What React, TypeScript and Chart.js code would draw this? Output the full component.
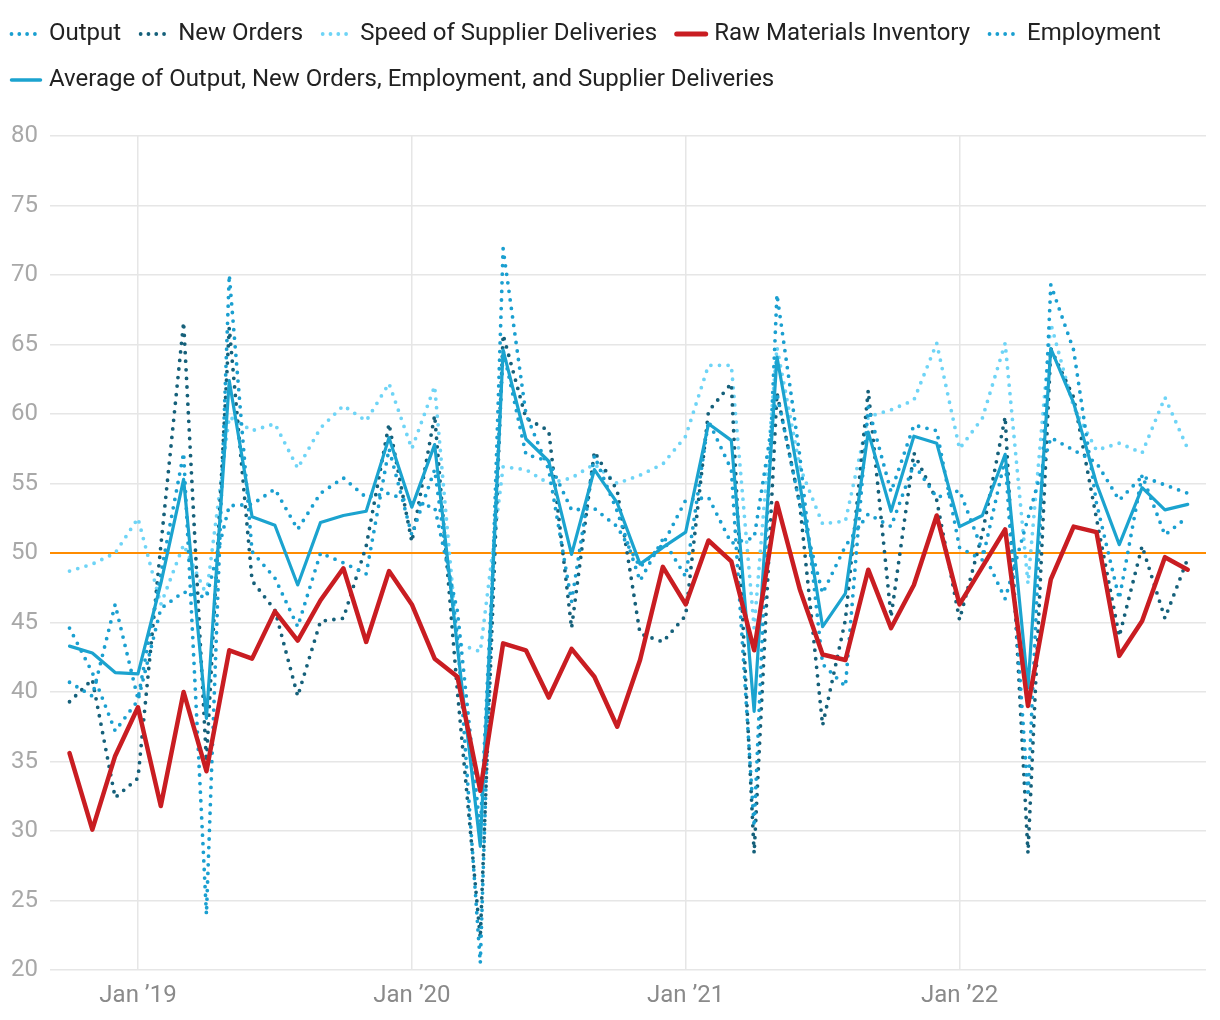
import React, { useEffect, useRef } from "react";
import { Chart, registerables } from "chart.js";

Chart.register(...registerables);

// Months from Oct 2018 to Nov 2022 (index 0 = Oct 2018)
const MONTHS = [
  "Oct 2018", "Nov 2018", "Dec 2018",
  "Jan 2019", "Feb 2019", "Mar 2019", "Apr 2019", "May 2019", "Jun 2019", "Jul 2019", "Aug 2019", "Sep 2019", "Oct 2019", "Nov 2019", "Dec 2019",
  "Jan 2020", "Feb 2020", "Mar 2020", "Apr 2020", "May 2020", "Jun 2020", "Jul 2020", "Aug 2020", "Sep 2020", "Oct 2020", "Nov 2020", "Dec 2020",
  "Jan 2021", "Feb 2021", "Mar 2021", "Apr 2021", "May 2021", "Jun 2021", "Jul 2021", "Aug 2021", "Sep 2021", "Oct 2021", "Nov 2021", "Dec 2021",
  "Jan 2022", "Feb 2022", "Mar 2022", "Apr 2022", "May 2022", "Jun 2022", "Jul 2022", "Aug 2022", "Sep 2022", "Oct 2022", "Nov 2022",
];

const JAN_TICKS = [3, 15, 27, 39];
const JAN_LABELS = ["Jan \u201919", "Jan \u201920", "Jan \u201921", "Jan \u201922"];

const OUTPUT = [
  40.7, 39.7, 46.3, 39.5, 48.5, 57.2, 24.0, 70.0, 50.1, 48.2, 44.7, 50.0, 49.3, 48.5, 57.5, 51.3, 56.0,
  44.0, 20.5, 71.9, 60.0, 56.0, 46.5, 57.0, 53.0, 48.0, 51.0, 48.3, 59.5, 56.0, 30.3, 68.6, 57.0, 42.0,
  40.4, 60.5, 54.4, 59.2, 58.8, 50.4, 49.5, 56.8, 32.5, 69.3, 64.6, 53.6, 46.7, 55.6, 51.3, 52.6,
];

const NEW_ORDERS = [
  39.3, 40.9, 32.4, 33.8, 50.5, 66.6, 35.0, 66.2, 48.0, 45.9, 39.7, 45.1, 45.3, 50.5, 59.3, 50.8, 59.9,
  40.0, 22.3, 65.7, 59.7, 58.8, 44.6, 57.3, 54.5, 44.2, 43.6, 45.5, 60.2, 62.2, 28.4, 61.5, 53.5, 37.6,
  45.2, 61.7, 45.4, 57.2, 53.8, 45.2, 51.4, 59.8, 28.4, 64.7, 61.2, 52.5, 44.0, 50.5, 45.3, 49.6,
];

const SUPPLIER_DELIVERIES = [
  48.7, 49.2, 50.0, 52.5, 46.3, 50.6, 47.0, 59.8, 58.8, 59.3, 56.1, 59.0, 60.6, 59.5, 62.2, 57.5, 62.0,
  43.5, 42.9, 56.2, 56.0, 55.0, 55.4, 56.4, 55.0, 55.6, 56.4, 58.4, 63.5, 63.5, 44.6, 64.8, 56.2, 52.1,
  52.3, 59.8, 60.3, 61.0, 65.1, 57.5, 59.7, 65.1, 47.8, 66.5, 60.5, 57.4, 57.9, 57.2, 61.2, 57.5,
];

const RAW_MATERIALS = [
  35.6, 30.1, 35.4, 38.9, 31.8, 40.0, 34.3, 43.0, 42.4, 45.8, 43.7, 46.6, 48.9, 43.6, 48.7, 46.3, 42.4,
  41.1, 32.9, 43.5, 43.0, 39.6, 43.1, 41.1, 37.5, 42.3, 49.0, 46.3, 50.9, 49.4, 43.0, 53.6, 47.4, 42.7,
  42.3, 48.8, 44.6, 47.7, 52.7, 46.3, 49.0, 51.7, 39.0, 48.1, 51.9, 51.5, 42.6, 45.1, 49.7, 48.8,
];

const EMPLOYMENT = [
  44.6, 41.4, 37.2, 39.4, 46.0, 47.2, 46.8, 53.4, 53.5, 54.6, 51.7, 54.3, 55.4, 54.0, 54.3, 53.6, 53.3,
  45.8, 30.0, 64.6, 57.1, 56.6, 53.1, 53.2, 51.9, 49.0, 50.6, 53.8, 54.0, 50.7, 51.1, 61.5, 53.5, 47.1,
  50.5, 52.8, 51.9, 56.4, 54.0, 54.5, 50.2, 46.7, 52.5, 58.3, 57.4, 56.5, 53.8, 55.5, 54.9, 54.3,
];

const AVERAGE = [
  43.3, 42.8, 41.4, 41.3, 47.8, 55.3, 38.1, 62.4, 52.6, 52.0, 47.7, 52.2, 52.7, 53.0, 58.3, 53.3, 57.8,
  43.2, 28.9, 64.6, 58.2, 56.6, 49.9, 56.0, 53.6, 49.2, 50.4, 51.5, 59.3, 58.1, 38.6, 64.1, 55.0, 44.7,
  47.1, 58.7, 53.0, 58.4, 57.9, 51.9, 52.7, 57.1, 40.3, 64.7, 60.8, 55.0, 50.6, 54.7, 53.1, 53.5,
];

const Y_MIN = 20;
const Y_MAX = 80;
const Y_STEP = 5;
const X_MIN = -0.855;
const X_MAX = 49.8;
const REFERENCE_LEVEL = 50;

const CANVAS_W = 1228;
const CANVAS_H = 1020;
const LEGEND_BOX_W = 27;

const FONT = "Roboto";

export default function App() {
  const ref = useRef<HTMLCanvasElement | null>(null);

  useEffect(() => {
    if (!ref.current) return;
    const toXY = (arr: number[]) => arr.map((v, i) => ({ x: i, y: v, month: MONTHS[i] }));

    const dotted = (label: string, data: number[], color: string, order: number) => ({
      label,
      data: toXY(data),
      borderColor: color,
      backgroundColor: color,
      borderWidth: 3.8,
      borderDash: [0, 8.6],
      borderCapStyle: "round",
      borderJoinStyle: "round",
      pointRadius: 0,
      pointHoverRadius: 0,
      tension: 0,
      fill: false,
      order,
      legendWidth: 3.8,
      legendDotted: true,
    });
    const solid = (label: string, data: number[], color: string, width: number, order: number, lw: number) => ({
      label,
      data: toXY(data),
      borderColor: color,
      backgroundColor: color,
      borderWidth: width,
      borderCapStyle: "round",
      borderJoinStyle: "round",
      pointRadius: 0,
      pointHoverRadius: 0,
      tension: 0,
      fill: false,
      order,
      legendWidth: lw,
      legendDotted: false,
    });

    const referenceLine = {
      id: "referenceLine",
      beforeDatasetsDraw(chart: any) {
        const { ctx, chartArea, scales } = chart;
        const y = scales.y.getPixelForValue(REFERENCE_LEVEL);
        ctx.save();
        ctx.strokeStyle = "#ff8c00";
        ctx.lineWidth = 2;
        ctx.beginPath();
        ctx.moveTo(chartArea.left, y);
        ctx.lineTo(chartArea.right, y);
        ctx.stroke();
        ctx.restore();
      },
    };

    const legendSymbols = {
      id: "legendSymbols",
      beforeUpdate(chart: any) {
        const lg = chart.legend;
        if (lg && !lg.__patched) {
          const orig = lg.fit.bind(lg);
          lg.fit = function () {
            orig();
            this.height += 32;
          };
          lg.__patched = true;
        }
      },
      afterDraw(chart: any) {
        const lg = chart.legend;
        if (!lg || !lg.legendHitBoxes) return;
        const ctx = chart.ctx;
        lg.legendItems.forEach((item: any, i: number) => {
          const hb = lg.legendHitBoxes[i];
          const ds: any = chart.data.datasets[item.datasetIndex];
          if (!hb || !ds) return;
          const y = hb.top + hb.height / 2;
          ctx.save();
          ctx.strokeStyle = ds.borderColor;
          ctx.lineWidth = ds.legendWidth;
          ctx.lineCap = "round";
          ctx.setLineDash(ds.legendDotted ? [0, 7.8] : []);
          ctx.beginPath();
          ctx.moveTo(hb.left + 1.5, y);
          ctx.lineTo(hb.left + 30.5, y);
          ctx.stroke();
          ctx.restore();
        });
      },
    };

    const chart = new Chart(ref.current, {
      type: "line",
      data: {
        datasets: [
          dotted("Output", OUTPUT, "#1a9fd0", 2),
          dotted("New Orders", NEW_ORDERS, "#15607a", 4),
          dotted("Speed of Supplier Deliveries", SUPPLIER_DELIVERIES, "#6ed4f6", 5),
          solid("Raw Materials Inventory", RAW_MATERIALS, "#c91d22", 4.5, 0, 5),
          dotted("Employment", EMPLOYMENT, "#1a9fd0", 3),
          solid("Average of Output, New Orders, Employment, and Supplier Deliveries", AVERAGE, "#1ba3cf", 3.2, 1, 3.5),
        ] as any,
      },
      options: {
        responsive: false,
        animation: false,
        layout: { padding: { left: 0, right: 14, top: 2, bottom: 0 } },
        plugins: {
          tooltip: { enabled: false },
          legend: {
            display: true,
            position: "top",
            align: "start",
            labels: {
              boxWidth: LEGEND_BOX_W,
              boxHeight: 28,
              padding: 18,
              font: { family: FONT, size: 24 },
              color: "#222222",
              generateLabels: (c: any) =>
                c.data.datasets.map((ds: any, i: number) => ({
                  text: ds.label,
                  fillStyle: "rgba(0,0,0,0)",
                  strokeStyle: "rgba(0,0,0,0)",
                  lineWidth: 0,
                  hidden: false,
                  datasetIndex: i,
                  fontColor: "#222222",
                })),
            },
          },
        },
        scales: {
          x: {
            type: "linear",
            min: X_MIN,
            max: X_MAX,
            afterBuildTicks: (scale: any) => {
              scale.ticks = JAN_TICKS.map((v) => ({ value: v }));
            },
            afterFit: (scale: any) => {
              scale.height = 50;
            },
            ticks: {
              autoSkip: false,
              maxRotation: 0,
              minRotation: 0,
              padding: 12,
              color: "#8a8a8a",
              font: { family: FONT, size: 24 },
              callback: (v: any) => {
                const k = JAN_TICKS.indexOf(Number(v));
                return k >= 0 ? JAN_LABELS[k] : "";
              },
            },
            grid: { color: "#e6e6e6", lineWidth: 1.5, drawTicks: false },
            border: { display: false },
          },
          y: {
            min: Y_MIN,
            max: Y_MAX,
            afterFit: (scale: any) => {
              scale.width = 58;
            },
            ticks: {
              stepSize: Y_STEP,
              padding: 12,
              color: "#a8a8a8",
              font: { family: FONT, size: 24 },
            },
            grid: { color: "#e6e6e6", lineWidth: 1.5, drawTicks: false },
            border: { display: false },
          },
        },
      },
      plugins: [referenceLine, legendSymbols],
    } as any);

    return () => chart.destroy();
  }, []);

  return (
    <div style={{ position: "absolute", left: -8, top: 0, width: CANVAS_W, height: CANVAS_H, background: "#fff" }}>
      <canvas ref={ref} width={CANVAS_W} height={CANVAS_H} style={{ display: "block", width: CANVAS_W, height: CANVAS_H }} />
    </div>
  );
}
